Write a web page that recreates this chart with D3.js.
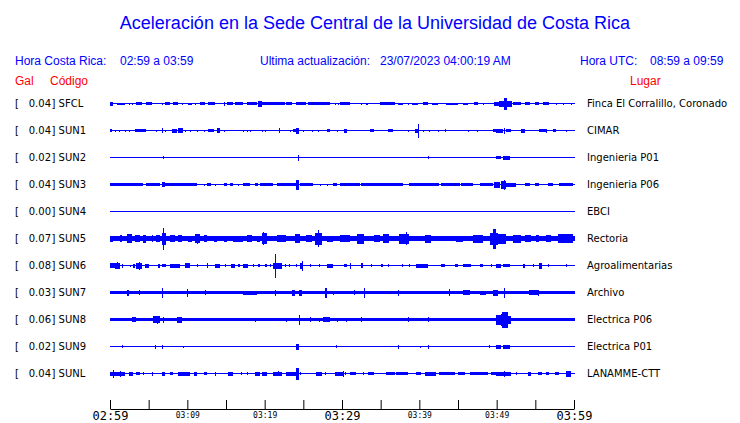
<!DOCTYPE html>
<html><head><meta charset="utf-8">
<script src="https://cdn.jsdelivr.net/npm/d3@7"></script>
<style>body{margin:0;background:#fff}svg{display:block}</style>
</head><body><svg id="c" width="740" height="423"></svg>
<script>
// ---------- data ----------
const titleText = "Aceleración en la Sede Central de la Universidad de Costa Rica";
const horaCR = "02:59 a 03:59";
const actualizacion = "23/07/2023 04:00:19 AM";
const horaUTC = "08:59 a 09:59";

const stations = ["SFCL","SUN1","SUN2","SUN3","SUN4","SUN5","SUN6","SUN7","SUN8","SUN9","SUNL"];
const galValues = ["0.04","0.04","0.02","0.04","0.00","0.07","0.08","0.03","0.06","0.02","0.04"];
const places = ["Finca El Corralillo, Coronado","CIMAR","Ingenieria P01","Ingenieria P06","EBCI","Rectoria","Agroalimentarias","Archivo","Electrica P06","Electrica P01","LANAMME-CTT"];
// background noise amplitude (relative units)
const baseAmp = [0.5,0.5,0.5,0.5,0.5,2.5,0.5,1.5,1.5,0.5,0.5];

// bursts: [start minute, end minute, amplitude] (minutes after 02:59)
const evSFCL = [[0,0.4,2],[0.9,1.9,1],[2.4,2.6,1],[2.9,3.0,1],[3.4,4.1,1.5],[4.7,5.4,1.3],[6.7,6.7,1],[7.1,7.8,1.3],[8.2,8.8,1.3],[9.3,9.5,1],[10.1,10.6,1],[11.0,11.0,1],[11.6,12.3,1.3],[12.7,13.6,1.3],[14.7,14.7,2],[15.1,15.9,1.3],[16.2,17.2,1.5],[17.7,19.0,1.5],[19.2,19.6,3],[19.6,22.6,1.5],[22.8,23.5,1.3],[24.1,25.4,1.3],[25.6,28.4,1.3],[29.1,29.1,1],[29.5,29.5,1],[29.7,31.0,1.3],[32.5,32.5,1],[33.1,33.3,1],[34.9,36.8,1.3],[37.2,37.9,1],[38.5,38.5,1],[39.0,39.8,1],[40.5,41.1,1.5],[41.7,42.4,1],[43.5,45.0,1],[45.6,46.3,1],[47.1,47.6,1.3],[48.2,48.2,1],[49.7,50.8,2],[50.3,52.0,3],[50.9,51.3,6],[52.1,53.2,1.5],[53.6,54.3,1.3],[54.9,55.5,1.3],[56.0,56.8,1.3],[57.7,57.7,1],[58.6,58.6,1],[59.6,59.6,1]];
const evSUN1 = [[0,0.2,1.5],[0.6,0.6,1],[1.1,1.1,1],[1.9,1.9,1],[2.4,2.4,1],[3.2,4.7,1.3],[6.0,6.0,1],[6.7,6.9,2.5],[7.1,7.1,1],[8.0,8.6,2],[8.8,9.5,2.5],[9.7,9.7,1],[10.3,10.3,1],[11.2,11.2,1],[12.1,12.1,1],[12.7,13.4,1.3],[13.8,14.2,2.5],[14.7,14.7,1],[17.2,17.2,1],[17.7,17.7,1],[18.1,18.1,1],[19.6,19.6,1],[20.0,20.0,1],[21.8,22.0,2.5],[23.3,23.3,1],[23.7,24.1,1.3],[24.1,24.4,3],[25.0,25.0,1],[26.1,26.1,1],[26.9,26.9,1],[28.0,28.4,1.3],[29.3,29.3,1],[30.2,30.6,2],[33.6,34.2,1.3],[35.9,36.6,1.5],[38.5,38.5,1],[39.4,40.0,2],[39.8,39.8,7],[40.5,40.5,1],[41.3,41.3,1],[42.4,42.4,1],[43.3,43.5,1.3],[46.3,46.3,1],[47.4,47.4,1],[49.5,49.9,1.3],[49.9,50.8,2],[51.0,51.0,3],[51.2,51.9,1.3],[53.2,53.6,2],[55.5,56.4,1.3],[56.4,56.4,2],[57.3,57.7,1.3],[59.0,59.0,1]];
const evSUN2 = [[6.8,6.8,1.5],[24.3,24.3,3],[41.1,41.1,1.5],[49.9,50.6,1.5],[50.8,51.7,2]];
const evSUN3 = [[0,4.3,1.5],[4.7,6.5,1.5],[6.7,7.1,2.5],[7.1,11.2,1.5],[12.1,12.1,1],[12.5,13.1,1.3],[13.6,13.6,1],[14.7,15.1,1.3],[15.5,15.9,1.3],[16.6,16.6,1],[17.2,18.1,1.5],[18.8,19.2,1.3],[19.4,21.1,1.5],[21.6,24.1,1.5],[24.1,24.4,5],[24.6,26.3,1.5],[27.2,27.2,1],[28.0,28.0,1],[28.9,29.3,1.3],[29.7,31.0,1.3],[31.0,32.3,1.3],[32.5,37.9,1.5],[38.7,42.6,1.5],[42.8,45.2,1.3],[45.4,46.9,1.5],[47.8,49.5,1.5],[49.7,50.4,3],[50.6,51.2,4],[51.0,51.0,5],[51.2,52.5,2],[53.6,54.3,1.3],[54.9,55.5,1.3],[56.6,57.3,1.3],[58.1,59.9,1.3]];
const evSUN4 = [];
const evSUN5 = [[0,0.4,3],[1.3,1.5,3.5],[2.2,2.8,4.5],[3.2,3.9,3.5],[4.3,4.7,4],[5.4,5.4,3.5],[6.0,6.5,3.5],[6.7,7.3,6],[6.9,6.9,11],[7.8,8.4,3.5],[8.8,9.3,3.5],[10.1,10.6,3],[11.0,11.6,4.5],[11.3,11.3,5],[12.1,12.5,3.2],[13.4,13.8,3],[14.7,15.1,3],[15.9,17.2,3],[17.7,18.3,3.5],[19.0,19.4,3],[19.6,20.3,5.5],[19.8,19.8,6.5],[21.6,22.8,3.2],[23.9,24.6,4.5],[25.4,26.1,3.5],[26.5,27.4,6],[26.9,26.9,8.5],[28.0,28.9,3],[29.7,31.0,3.5],[32.0,32.9,5],[34.2,34.9,3.5],[35.3,36.1,4.5],[37.4,38.7,5],[38.3,38.3,6.5],[40.7,41.5,4],[44.8,45.6,3],[46.9,48.2,4],[49.1,50.2,6],[49.5,49.9,10],[50.2,51.2,5],[52.1,53.2,4],[53.6,54.5,3.5],[55.1,55.5,3.5],[56.4,57.0,3.5],[57.9,59.9,4.5]];
const evSUN6 = [[0,0.6,2.5],[0.6,1.3,3],[0.9,0.9,3.5],[1.5,1.7,2],[2.6,2.6,1],[3.0,3.2,2],[3.4,4.1,3],[3.8,3.8,4],[4.5,5.0,2],[6.2,6.5,2],[6.7,7.3,1.5],[7.8,9.1,2],[9.7,10.3,2.5],[11.2,11.2,1.5],[12.5,12.5,2.5],[13.6,14.2,2],[14.9,14.9,1.5],[15.7,16.2,2],[16.6,16.8,1.5],[17.2,17.9,2],[18.5,18.5,1.5],[19.2,19.4,1.5],[20.0,20.3,1.5],[20.7,20.7,1.5],[21.1,22.2,3],[21.3,21.3,12],[22.6,22.6,1.5],[23.1,23.1,1.5],[24.1,24.1,1.5],[24.6,25.0,3],[24.8,24.8,5],[25.9,25.9,1.5],[27.0,27.2,1.5],[28.0,28.9,2],[30.3,30.3,1.5],[30.4,30.6,1.5],[31.0,31.0,3],[32.5,32.7,2.5],[33.8,33.8,1.5],[35.1,35.3,1.5],[35.9,35.9,1.5],[37.7,37.7,1.5],[38.7,38.7,1.5],[39.6,41.1,2],[42.8,43.3,1.5],[44.6,45.0,1.5],[45.6,45.6,1.5],[45.8,46.7,1.5],[47.8,48.2,1.5],[49.3,49.3,1.5],[49.9,50.6,2],[50.8,51.7,1.5],[53.4,53.6,2],[54.7,54.7,1.5],[55.5,55.8,3],[56.6,56.8,1.5],[59.0,59.0,1.5]];
const evSUN7 = [[2.2,2.4,3],[3.7,3.9,2.5],[6.7,6.7,5],[9.9,9.9,4],[12.3,12.3,2.5],[17.2,19.0,2],[21.3,21.3,3],[23.5,23.9,3],[24.4,24.8,3],[27.8,28.0,5],[28.9,28.9,2],[31.6,31.6,2.5],[32.9,32.9,5],[37.2,37.2,3],[43.9,43.9,3.5],[45.6,46.5,2.5],[47.8,48.6,2],[49.5,50.2,3],[51.0,51.0,5],[54.2,55.5,2.5],[55.3,55.3,3]];
const evSUN8 = [[2.8,3.4,2.5],[5.6,6.5,3.5],[6.1,6.1,4],[6.9,6.9,3],[8.6,9.3,3],[18.8,18.8,2],[22.8,22.8,2],[24.4,24.4,5],[25.9,25.9,2.5],[27.0,27.0,2],[27.6,28.4,2.5],[29.3,29.3,2],[30.5,30.5,2],[32.5,32.5,2.5],[38.5,38.5,2.5],[41.1,41.1,2.5],[49.9,50.5,5],[50.5,50.7,6],[50.7,51.5,8],[51.5,51.8,4]];
const evSUN9 = [[1.6,1.6,1.5],[5.8,5.8,2],[6.7,6.9,2],[9.4,9.4,1],[24.1,24.4,3],[29.2,29.2,1.5],[37.3,37.3,2],[40.1,40.1,1],[41.1,41.1,2],[49.0,49.0,1.5],[49.9,50.6,2],[50.8,51.7,2]];
const evSUNL = [[0,1.9,2],[0.4,0.4,4],[1.3,1.3,3],[2.4,3.0,2],[3.4,3.9,1.5],[4.3,4.3,1.5],[5.4,5.6,2],[6.7,7.1,2],[7.8,8.2,1.5],[8.8,10.3,2],[10.8,11.2,2],[12.1,12.5,1.5],[13.6,13.6,2],[15.3,15.9,2],[17.0,17.0,1.5],[17.7,17.9,1.5],[18.8,19.4,2],[19.6,20.3,2],[21.1,22.2,2],[21.7,21.7,2.5],[22.8,24.1,2],[24.1,24.4,6],[24.6,24.6,1.5],[26.7,27.4,2],[27.8,27.8,1.5],[29.1,30.0,2],[30.1,30.1,3],[29.7,30.3,2],[30.4,30.4,1.5],[31.0,31.8,1.5],[32.7,32.7,1.5],[33.3,34.2,1.5],[35.7,36.8,1.5],[37.0,38.5,1.5],[39.6,40.2,1.5],[40.7,42.2,2],[42.6,44.6,1.5],[45.0,45.9,1.5],[46.5,47.4,1.5],[47.4,48.9,1.5],[49.3,49.9,1.5],[49.9,51.9,2],[51.0,51.0,3],[52.5,52.5,1.5],[54.0,54.5,2],[55.3,55.8,1.5],[56.4,56.8,1.5],[57.5,58.1,1.5],[59.0,59.6,3]];
const events = [evSFCL,evSUN1,evSUN2,evSUN3,evSUN4,evSUN5,evSUN6,evSUN7,evSUN8,evSUN9,evSUNL];

const tickMinutes = [0,5,10,15,20,25,30,35,40,45,50,55,60];
const majorMinutes = [0,10,20,30,40,50,60];
const majorLabels = ["02:59","03:09","03:19","03:29","03:39","03:49","03:59"];
const bigLabelMinutes = [0,30,60];

// ---------- drawing ----------
const svg = d3.select("#c");
const BLUE = "#0000ff", RED = "#ff0000";
const sans = "'Liberation Sans', Arial, sans-serif";
const dv = "'DejaVu Sans', sans-serif";

const x = d3.scaleLinear().domain([0, 60]).range([110, 574]);
const y = d3.scalePoint().domain(stations).range([103.5, 373.5]);
const amp = d3.scaleLinear().domain([0, 13.5]).range([0, 13.5]);

svg.append("text").attr("x", 375).attr("y", 29).attr("text-anchor", "middle")
  .attr("font-family", sans).attr("font-size", 18).attr("fill", BLUE).text(titleText);

const hdr = [[15, "Hora Costa Rica:"], [120, horaCR], [260, "Ultima actualización:"], [380, actualizacion], [580, "Hora UTC:"], [650, horaUTC]];
svg.selectAll("text.hdr").data(hdr).join("text").attr("class", "hdr")
  .attr("x", d => d[0]).attr("y", 65).attr("font-family", sans).attr("font-size", 12)
  .attr("fill", BLUE).text(d => d[1]);

svg.append("text").attr("x", 15).attr("y", 85).attr("font-family", sans).attr("font-size", 12).attr("fill", RED).text("Gal");
svg.append("text").attr("x", 50).attr("y", 85).attr("font-family", sans).attr("font-size", 12).attr("fill", RED).text("Código");
svg.append("text").attr("x", 630).attr("y", 85).attr("font-family", sans).attr("font-size", 12).attr("fill", RED).text("Lugar");

// row labels
const rows = svg.selectAll("g.row").data(stations).join("g").attr("class", "row");
rows.append("text").attr("x", 15).attr("y", d => y(d) + 3.5).attr("font-family", dv).attr("font-size", 10).attr("fill", "#000").text("[");
rows.append("text").attr("x", 51).attr("y", d => y(d) + 3.5).attr("text-anchor", "end").attr("font-family", dv).attr("font-size", 10).attr("fill", "#000").text((d, i) => galValues[i]);
rows.append("text").attr("x", 51.5).attr("y", d => y(d) + 3.5).attr("font-family", dv).attr("font-size", 10).attr("fill", "#000").text(d => "] " + d);
rows.append("text").attr("x", 587).attr("y", d => y(d) + 3.5).attr("font-family", dv).attr("font-size", 10).attr("fill", "#000").text((d, i) => places[i]);

// traces
stations.forEach((s, i) => {
  const g = svg.append("g").attr("fill", BLUE).attr("shape-rendering", "crispEdges");
  const yc = y(s);
  g.append("rect").attr("x", x(0)).attr("width", x(60) + 1 - x(0))
    .attr("y", yc - amp(baseAmp[i])).attr("height", 2 * amp(baseAmp[i]));
  g.selectAll("rect.ev").data(events[i]).join("rect").attr("class", "ev")
    .attr("x", d => x(d[0]))
    .attr("width", d => Math.max(1, x(d[1]) - x(d[0])))
    .attr("y", d => yc - amp(d[2]))
    .attr("height", d => 2 * amp(d[2]));
});

// time axis
const axis = d3.axisBottom(x).tickValues(tickMinutes).tickSize(-9).tickSizeOuter(0)
  .tickFormat(m => majorMinutes.includes(m) ? majorLabels[majorMinutes.indexOf(m)] : "");
const ag = svg.append("g").attr("transform", "translate(0,409)").call(axis);
ag.select(".domain").attr("stroke", "#000");
ag.selectAll(".tick line").attr("stroke", "#000");
ag.selectAll(".tick text")
  .attr("font-family", "'DejaVu Sans Mono', monospace")
  .attr("fill", "#000")
  .attr("dy", null)
  .attr("y", m => bigLabelMinutes.includes(m) ? 11 : 9)
  .attr("font-size", m => bigLabelMinutes.includes(m) ? 12 : 8);
</script></body></html>
